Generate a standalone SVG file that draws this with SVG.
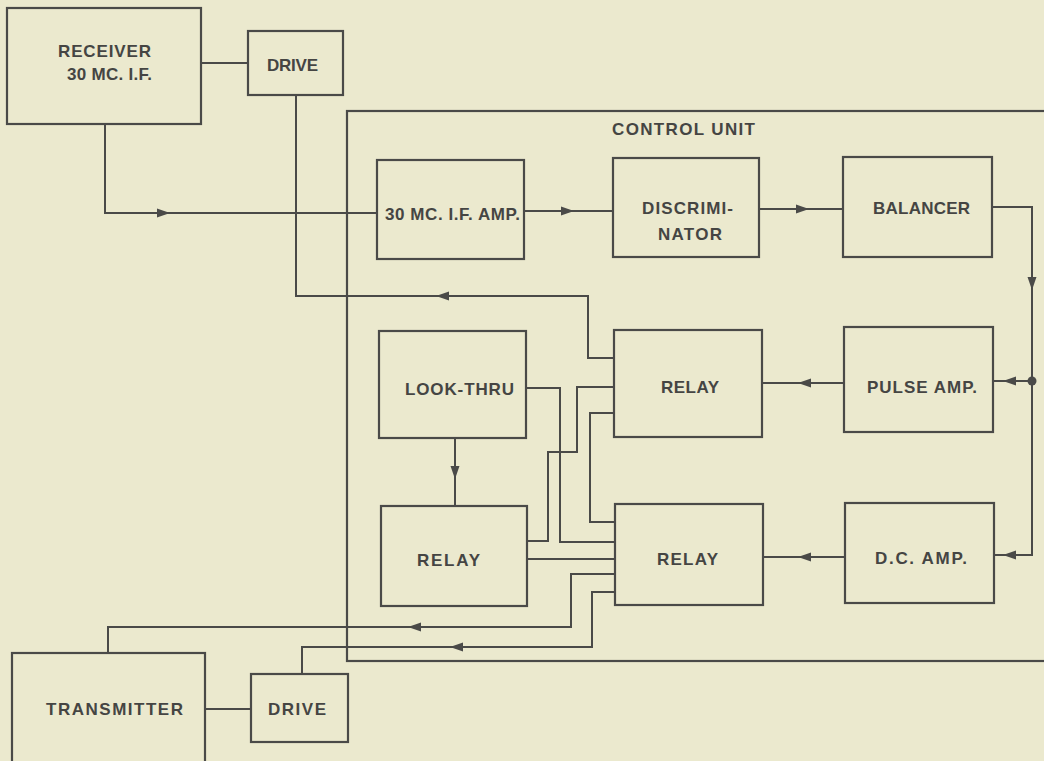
<svg xmlns="http://www.w3.org/2000/svg" width="1044" height="761" viewBox="0 0 1044 761">
<style>
.bx{fill:none;stroke:#4a4a48;stroke-width:2.2}
.ln{fill:none;stroke:#4a4a48;stroke-width:2}
.t{font-family:"Liberation Sans",Arial,sans-serif;font-weight:bold;font-size:17px;fill:#454543}
</style>
<defs>
<path id="ah" d="M0,0 L-13,-4.5 L-13,4.5 Z" fill="#4a4a48"/>
</defs>
<rect width="1044" height="761" fill="#ebe9ce"/>
<g id="control-unit">
<rect class="bx" x="347" y="111" width="760" height="550"/>
<text class="t" x="612" y="135" textLength="143" lengthAdjust="spacing">CONTROL UNIT</text>
</g>
<g id="receiver">
<rect class="bx" x="7" y="8" width="194" height="116"/>
<text class="t" x="58" y="57" textLength="93" lengthAdjust="spacing">RECEIVER</text>
<text class="t" x="67" y="80" textLength="85" lengthAdjust="spacing">30 MC. I.F.</text>
</g>
<g id="drive-top">
<rect class="bx" x="248" y="31" width="95" height="64"/>
<text class="t" x="267" y="71" textLength="51" lengthAdjust="spacing">DRIVE</text>
</g>
<g id="if-amp">
<rect class="bx" x="377" y="160" width="147" height="99"/>
<text class="t" x="385" y="220" textLength="135" lengthAdjust="spacing">30 MC. I.F. AMP.</text>
</g>
<g id="discriminator">
<rect class="bx" x="613" y="158" width="146" height="99"/>
<text class="t" x="642" y="214" textLength="91" lengthAdjust="spacing">DISCRIMI-</text>
<text class="t" x="658" y="240" textLength="64" lengthAdjust="spacing">NATOR</text>
</g>
<g id="balancer">
<rect class="bx" x="843" y="157" width="149" height="100"/>
<text class="t" x="873" y="214" textLength="97" lengthAdjust="spacing">BALANCER</text>
</g>
<g id="look-thru">
<rect class="bx" x="379" y="331" width="147" height="107"/>
<text class="t" x="405" y="395" textLength="109" lengthAdjust="spacing">LOOK-THRU</text>
</g>
<g id="relay-mid">
<rect class="bx" x="614" y="330" width="148" height="107"/>
<text class="t" x="661" y="393" textLength="58" lengthAdjust="spacing">RELAY</text>
</g>
<g id="pulse-amp">
<rect class="bx" x="844" y="327" width="149" height="105"/>
<text class="t" x="867" y="393" textLength="110" lengthAdjust="spacing">PULSE AMP.</text>
</g>
<g id="relay-bl">
<rect class="bx" x="381" y="506" width="146" height="100"/>
<text class="t" x="417" y="566" textLength="63" lengthAdjust="spacing">RELAY</text>
</g>
<g id="relay-br">
<rect class="bx" x="615" y="504" width="148" height="101"/>
<text class="t" x="657" y="565" textLength="61" lengthAdjust="spacing">RELAY</text>
</g>
<g id="dc-amp">
<rect class="bx" x="845" y="503" width="149" height="100"/>
<text class="t" x="875" y="564" textLength="92" lengthAdjust="spacing">D.C. AMP.</text>
</g>
<g id="transmitter">
<rect class="bx" x="12" y="653" width="193" height="130"/>
<text class="t" x="46" y="715" textLength="137" lengthAdjust="spacing">TRANSMITTER</text>
</g>
<g id="drive-bottom">
<rect class="bx" x="251" y="674" width="97" height="68"/>
<text class="t" x="268" y="715" textLength="58" lengthAdjust="spacing">DRIVE</text>
</g>
<g id="connectors">
<path class="ln" d="M105,124 V213 H377"/>
<path class="ln" d="M201,63 H248"/>
<path class="ln" d="M296,95 V296 H588 V358 H614"/>
<path class="ln" d="M524,211 H613"/>
<path class="ln" d="M759,209 H843"/>
<path class="ln" d="M992,207 H1032 V555 H994"/>
<path class="ln" d="M1032,381 H993"/>
<path class="ln" d="M844,383 H762"/>
<path class="ln" d="M845,557 H763"/>
<path class="ln" d="M526,388 H560 V542 H615"/>
<path class="ln" d="M614,387 H577 V452 H548 V541 H527"/>
<path class="ln" d="M614,413 H590 V522 H615"/>
<path class="ln" d="M455,438 V506"/>
<path class="ln" d="M527,559 H615"/>
<path class="ln" d="M615,574 H571 V627 H108 V653"/>
<path class="ln" d="M615,592 H592 V647 H302 V674"/>
<path class="ln" d="M205,709 H251"/>
<circle cx="1032" cy="381" r="4.5" fill="#4a4a48"/>
<use href="#ah" transform="translate(170,213)"/>
<use href="#ah" transform="translate(574,211)"/>
<use href="#ah" transform="translate(809,209)"/>
<use href="#ah" transform="translate(1032,290) rotate(90)"/>
<use href="#ah" transform="translate(1003,381) rotate(180)"/>
<use href="#ah" transform="translate(798,383) rotate(180)"/>
<use href="#ah" transform="translate(1003,555) rotate(180)"/>
<use href="#ah" transform="translate(798,557) rotate(180)"/>
<use href="#ah" transform="translate(436,296) rotate(180)"/>
<use href="#ah" transform="translate(455,479) rotate(90)"/>
<use href="#ah" transform="translate(408,627) rotate(180)"/>
<use href="#ah" transform="translate(450,647) rotate(180)"/>
</g>
</svg>
